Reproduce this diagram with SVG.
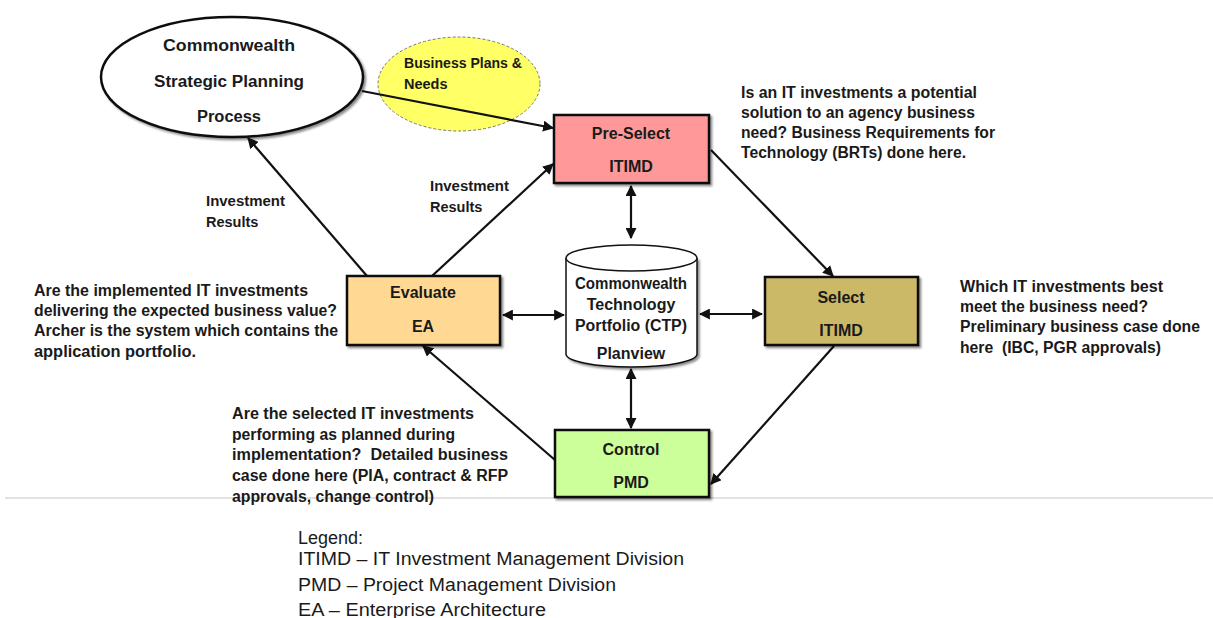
<svg xmlns="http://www.w3.org/2000/svg" width="1213" height="618" viewBox="0 0 1213 618">
<defs>
<style>
.b{font-family:"Liberation Sans",Arial,sans-serif;font-weight:bold;fill:#1a1a1a;white-space:pre}
.lbl{font-size:16px;text-anchor:middle}
.ann{font-size:16px}
.sm{font-size:14.5px}
.leg{font-family:"Liberation Sans",Arial,sans-serif;font-size:18px;fill:#1a1a1a}
.box{stroke:#111;stroke-width:2.5}
.ln{stroke:#111;stroke-width:2.2;fill:none}
</style>
<marker id="ah" viewBox="0 0 10 10" refX="9" refY="5" markerWidth="5" markerHeight="5" orient="auto-start-reverse" markerUnits="strokeWidth">
<path d="M0,0 L10,5 L0,10 z" fill="#111"/>
</marker>
<filter id="sh" x="-10%" y="-10%" width="130%" height="130%">
<feDropShadow dx="2" dy="2" stdDeviation="1.2" flood-color="#000" flood-opacity="0.45"/>
</filter>
</defs>
<rect width="1213" height="618" fill="#fff"/>
<line x1="5" y1="498" x2="1213" y2="498" stroke="#d9d9d9" stroke-width="1.5"/>

<g id="strategic">
<ellipse cx="232" cy="77" rx="131" ry="60" fill="#fff" stroke="#111" stroke-width="2.5" filter="url(#sh)"/>
<text class="b lbl" x="229" y="51" font-size="17" textLength="132" lengthAdjust="spacingAndGlyphs">Commonwealth</text>
<text class="b lbl" x="229" y="87" font-size="17" textLength="150" lengthAdjust="spacingAndGlyphs">Strategic Planning</text>
<text class="b lbl" x="229" y="122" font-size="17" textLength="64" lengthAdjust="spacingAndGlyphs">Process</text>
</g>

<g id="bizplans">
<ellipse cx="459" cy="84" rx="81" ry="47" fill="#ffff66" stroke="#777" stroke-width="1" stroke-dasharray="3,2"/>
<text class="b sm" x="404" y="68" textLength="118" lengthAdjust="spacingAndGlyphs">Business Plans &amp;</text>
<text class="b sm" x="404" y="89">Needs</text>
</g>

<g id="connectors">
<line class="ln" x1="362" y1="91" x2="553" y2="128" marker-end="url(#ah)"/>
<line class="ln" x1="367" y1="276" x2="248" y2="138" marker-end="url(#ah)"/>
<line class="ln" x1="432" y1="276" x2="553" y2="164" marker-end="url(#ah)"/>
<line class="ln" x1="711" y1="150" x2="833" y2="276" marker-end="url(#ah)"/>
<line class="ln" x1="834" y1="346" x2="711" y2="484" marker-end="url(#ah)"/>
<line class="ln" x1="555" y1="460" x2="423" y2="346" marker-end="url(#ah)"/>
<line class="ln" x1="631" y1="186" x2="631" y2="238" marker-start="url(#ah)" marker-end="url(#ah)"/>
<line class="ln" x1="631" y1="369" x2="631" y2="428" marker-start="url(#ah)" marker-end="url(#ah)"/>
<line class="ln" x1="503" y1="315" x2="564" y2="315" marker-start="url(#ah)" marker-end="url(#ah)"/>
<line class="ln" x1="700" y1="314" x2="762" y2="314" marker-start="url(#ah)" marker-end="url(#ah)"/>
</g>

<g id="preselect">
<rect class="box" x="554" y="115" width="155" height="68" fill="#ff9999" filter="url(#sh)"/>
<text class="b lbl" x="631" y="139">Pre-Select</text>
<text class="b lbl" x="631" y="172">ITIMD</text>
</g>

<g id="select">
<rect class="box" x="765" y="277" width="153" height="68" fill="#cbb968" filter="url(#sh)"/>
<text class="b lbl" x="841" y="303">Select</text>
<text class="b lbl" x="841" y="336">ITIMD</text>
</g>

<g id="evaluate">
<rect class="box" x="347" y="276" width="153" height="69" fill="#ffd993" filter="url(#sh)"/>
<text class="b lbl" x="423" y="298">Evaluate</text>
<text class="b lbl" x="423" y="332">EA</text>
</g>

<g id="control">
<rect class="box" x="555" y="430" width="154" height="67" fill="#ccff99" filter="url(#sh)"/>
<text class="b lbl" x="631" y="455">Control</text>
<text class="b lbl" x="631" y="488">PMD</text>
</g>

<g id="ctp">
<path d="M566,258 L566,354 A65.5,13 0 0 0 697,354 L697,258" fill="#fff" stroke="#111" stroke-width="1.5" filter="url(#sh)"/>
<ellipse cx="631.5" cy="258" rx="65.5" ry="13" fill="#fff" stroke="#111" stroke-width="1.5"/>
<text class="b lbl" x="631" y="289" font-size="14.5" textLength="112" lengthAdjust="spacingAndGlyphs">Commonwealth</text>
<text class="b lbl" x="631" y="310" font-size="14.5">Technology</text>
<text class="b lbl" x="631" y="331" font-size="14.5" textLength="112" lengthAdjust="spacingAndGlyphs">Portfolio (CTP)</text>
<text class="b lbl" x="631" y="359" font-size="14.5">Planview</text>
</g>

<g id="labels">
<text class="b sm" x="206" y="206" textLength="79" lengthAdjust="spacingAndGlyphs">Investment</text>
<text class="b sm" x="206" y="227">Results</text>
<text class="b sm" x="430" y="191" textLength="79" lengthAdjust="spacingAndGlyphs">Investment</text>
<text class="b sm" x="430" y="212">Results</text>

<text class="b ann" x="741" y="98" textLength="236" lengthAdjust="spacingAndGlyphs">Is an IT investments a potential</text>
<text class="b ann" x="741" y="118" textLength="234" lengthAdjust="spacingAndGlyphs">solution to an agency business</text>
<text class="b ann" x="741" y="138" textLength="254" lengthAdjust="spacingAndGlyphs">need? Business Requirements for</text>
<text class="b ann" x="741" y="158" textLength="225" lengthAdjust="spacingAndGlyphs">Technology (BRTs) done here.</text>

<text class="b ann" x="34" y="296" textLength="274" lengthAdjust="spacingAndGlyphs">Are the implemented IT investments</text>
<text class="b ann" x="34" y="316" textLength="303" lengthAdjust="spacingAndGlyphs">delivering the expected business value?</text>
<text class="b ann" x="34" y="336" textLength="304" lengthAdjust="spacingAndGlyphs">Archer is the system which contains the</text>
<text class="b ann" x="34" y="357" textLength="162" lengthAdjust="spacingAndGlyphs">application portfolio.</text>

<text class="b ann" x="960" y="292" textLength="203" lengthAdjust="spacingAndGlyphs">Which IT investments best</text>
<text class="b ann" x="960" y="312" textLength="188" lengthAdjust="spacingAndGlyphs">meet the business need?</text>
<text class="b ann" x="960" y="332" textLength="240" lengthAdjust="spacingAndGlyphs">Preliminary business case done</text>
<text class="b ann" x="960" y="353" textLength="201" lengthAdjust="spacingAndGlyphs">here  (IBC, PGR approvals)</text>

<text class="b ann" x="232" y="419" textLength="242" lengthAdjust="spacingAndGlyphs">Are the selected IT investments</text>
<text class="b ann" x="232" y="440" textLength="223" lengthAdjust="spacingAndGlyphs">performing as planned during</text>
<text class="b ann" x="232" y="460" textLength="276" lengthAdjust="spacingAndGlyphs">implementation?  Detailed business</text>
<text class="b ann" x="232" y="481" textLength="276" lengthAdjust="spacingAndGlyphs">case done here (PIA, contract &amp; RFP</text>
<text class="b ann" x="232" y="502" textLength="202" lengthAdjust="spacingAndGlyphs">approvals, change control)</text>
</g>

<g id="legend">
<text class="leg" x="298" y="544">Legend:</text>
<text class="leg" x="298" y="565" textLength="386" lengthAdjust="spacingAndGlyphs">ITIMD – IT Investment Management Division</text>
<text class="leg" x="298" y="591" textLength="318" lengthAdjust="spacingAndGlyphs">PMD – Project Management Division</text>
<text class="leg" x="298" y="616" textLength="248" lengthAdjust="spacingAndGlyphs">EA – Enterprise Architecture</text>
</g>
</svg>
